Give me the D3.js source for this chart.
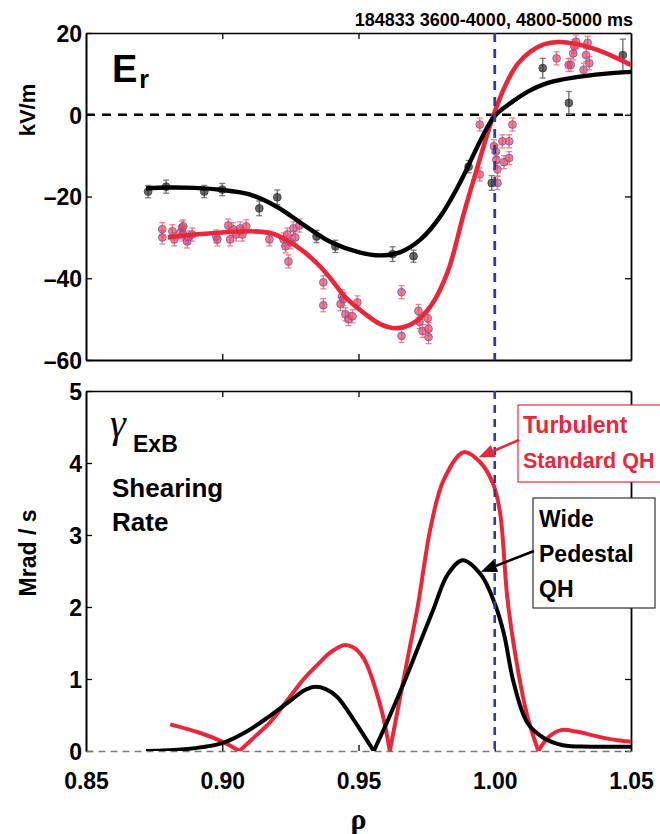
<!DOCTYPE html>
<html><head><meta charset="utf-8">
<script src="https://cdn.jsdelivr.net/npm/d3@7"></script>
<style>
body{margin:0;background:#fff;}
svg text{font-family:"Liberation Sans",Arial,Helvetica,sans-serif;font-weight:bold;}
</style></head><body>
<svg id="chart" width="660" height="834"></svg>
<script>
// ---------- DATA ----------
const xTicks = [0.85, 0.90, 0.95, 1.00, 1.05];
const erTicks = [20, 0, -20, -40, -60];
const gTicks = [0, 1, 2, 3, 4, 5];
const titleText = "184833 3600-4000, 4800-5000 ms";

// Er fit curves
const erBlackFitRho = [0.872,0.88,0.89,0.90,0.91,0.92,0.93,0.94,0.95,0.958,0.9654,0.9728,0.9801,0.9875,0.9949,1.0,1.0059,1.012,1.0195,1.03,1.04,1.05];
const erBlackFitVal = [-18.0,-17.8,-17.9,-18.4,-19.5,-22.5,-27.0,-31.2,-33.6,-34.4,-33.6,-30.5,-24.8,-16.3,-6.1,-0.3,2.9,5.6,7.8,9.2,10.0,10.5];
const erRedFitRho = [0.88,0.89,0.90,0.91,0.918,0.924,0.929,0.935,0.9397,0.945,0.952,0.958,0.964,0.970,0.9765,0.9827,0.9887,0.9938,0.9996,1.0045,1.0085,1.0132,1.018,1.0232,1.03,1.0379,1.045,1.05];
const erRedFitVal = [-30.0,-29.3,-28.8,-28.5,-29.0,-30.8,-33.0,-36.5,-40.0,-44.5,-48.5,-51.2,-52.2,-51.0,-46.8,-38.5,-24.0,-12.5,0,8.0,12.5,15.5,17.2,17.8,17.3,15.8,13.8,12.2];

// Er measured points
const erBlackRho = [0.8728,0.8794,0.8934,0.9000,0.9136,0.9202,0.9346,0.9415,0.9625,0.9702,0.9904,0.9989,1.0176,1.0272,1.0470];
const erBlackVal = [-18.8,-17.6,-18.8,-18.3,-22.9,-20.2,-29.8,-32.2,-34.1,-34.6,-12.7,-16.7,11.4,2.9,14.6];
const erBlackErr = [1.5,1.6,1.5,1.5,1.8,1.8,1.5,1.5,1.8,1.5,1.5,1.8,2.4,2.8,3.9];
const erRedRho = [0.878,0.878,0.8817,0.8824,0.8846,0.8853,0.8857,0.8857,0.8871,0.8875,0.8890,0.8978,0.8982,0.9022,0.9029,0.9040,0.9051,0.9066,0.9074,0.9088,
  0.9173,0.9225,0.9232,0.9239,0.9243,0.9250,0.9261,0.9268,0.9283,0.9371,0.9371,0.9434,0.9440,0.9445,0.9452,0.9463,0.9478,0.9496,
  0.9658,0.9658,0.9720,0.9724,0.9735,0.9754,0.9757,0.9757,0.9945,0.9945,0.9997,1.0004,1.0006,1.0010,1.0010,1.0028,1.0034,1.0053,1.0053,1.0065,
  1.0227,1.0271,1.0279,1.0288,1.0292,1.0298,1.0326,1.0335,1.0341,1.0347];
const erRedVal = [-28.0,-30.0,-28.5,-30.5,-28.8,-27.6,-27.3,-29.3,-31.0,-30.0,-29.3,-29.8,-30.5,-27.1,-30.5,-28.0,-29.3,-27.8,-29.3,-27.3,
  -30.5,-30.5,-32.2,-29.3,-35.9,-31.2,-27.8,-30.0,-27.1,-41.0,-46.6,-46.3,-44.4,-45.1,-48.8,-50.0,-49.3,-45.9,
  -43.4,-54.1,-48.0,-50.7,-52.9,-49.8,-52.4,-54.4,-2.4,-14.6,-7.7,-9.0,-11.0,-13.4,-16.7,-6.5,-11.6,-6.5,-10.6,-2.4,
  13.8,12.2,12.2,15.0,16.7,17.9,11.0,14.6,17.6,12.6];
const erRedErr = 1.6;

// Shearing rate curves
const gBlackRho = [0.872,0.88,0.89,0.90,0.908,0.9165,0.925,0.93,0.9336,0.938,0.9422,0.9483,0.9556,0.9607,0.9666,0.972,0.9776,0.9827,0.9882,0.9949,1.0,1.0033,1.007,1.012,1.018,1.025,1.035,1.05];
const gBlackVal = [0.0,0.01,0.04,0.11,0.25,0.46,0.7,0.84,0.89,0.86,0.75,0.43,0,0.42,0.94,1.45,1.98,2.45,2.65,2.45,2.05,1.64,0.94,0.39,0.18,0.08,0.06,0.06];
const gRedRho = [0.8809,0.892,0.90,0.9063,0.912,0.9176,0.925,0.9299,0.935,0.9397,0.9446,0.948,0.952,0.9581,0.9615,0.9679,0.9717,0.9765,0.9812,0.9886,0.9949,0.9996,1.002,1.0047,1.0083,1.012,1.016,1.02,1.0243,1.03,1.0379,1.045,1.05];
const gRedVal = [0.37,0.25,0.13,0,0.2,0.4,0.76,1.0,1.2,1.37,1.47,1.44,1.28,0.62,0,1.26,2.0,3.11,3.76,4.15,4.0,3.69,3.3,2.1,1.17,0.48,0,0.2,0.29,0.27,0.2,0.15,0.13];

// ---------- LAYOUT ----------
const RED = "#e8283a", BLUE = "#2e3d99";
const svg = d3.select("#chart");
const x = d3.scaleLinear().domain([0.85, 1.05]).range([86, 631]);
const yTop = d3.scaleLinear().domain([-60, 20]).range([360, 33]);
const yBot = d3.scaleLinear().domain([0, 5]).range([751, 391]);
const fmtEr = d => d < 0 ? "\u2013" + Math.abs(d) : String(d);

const defs = svg.append("defs");
defs.append("clipPath").attr("id","clipTop").append("rect")
  .attr("x", x(0.85)).attr("y", yTop(20)).attr("width", x(1.05)-x(0.85)).attr("height", yTop(-60)-yTop(20));
defs.append("clipPath").attr("id","clipBot").append("rect")
  .attr("x", x(0.85)).attr("y", yBot(5)-2).attr("width", x(1.05)-x(0.85)+4).attr("height", yBot(0)-yBot(5)+2);

function styleAxis(g, width, showText) {
  g.selectAll(".tick line").attr("stroke", "#000").attr("stroke-width", 1.3);
  g.select(".domain").attr("stroke", "#000").attr("stroke-width", width);
  g.selectAll("text").attr("font-size", 23).attr("fill", "#000")
    .style("display", showText ? null : "none");
}

// ---------- TOP PANEL ----------
const topG = svg.append("g");
topG.append("g").attr("transform", `translate(0,${yTop(20)})`)
  .call(d3.axisTop(x).tickValues([0.90,0.95,1.00]).tickSize(-6).tickSizeOuter(0)).call(g=>styleAxis(g,1.4,false));
topG.append("g").attr("transform", `translate(0,${yTop(-60)})`)
  .call(d3.axisBottom(x).tickValues([0.90,0.95,1.00]).tickSize(-6).tickSizeOuter(0)).call(g=>styleAxis(g,1.8,false));
topG.append("g").attr("transform", `translate(${x(1.05)},0)`)
  .call(d3.axisRight(yTop).tickValues(erTicks).tickSize(-6).tickSizeOuter(0)).call(g=>styleAxis(g,1.8,false));
topG.append("g").attr("transform", `translate(${x(0.85)},0)`)
  .call(d3.axisLeft(yTop).tickValues(erTicks).tickSize(-6).tickSizeOuter(0).tickPadding(4).tickFormat(fmtEr))
  .call(g=>styleAxis(g,2,true))
  .call(g=>g.selectAll("text").attr("dy","0.36em"));

// zero line
topG.append("line").attr("x1", x(0.85)).attr("x2", x(1.05)).attr("y1", yTop(0)).attr("y2", yTop(0))
  .attr("stroke","#000").attr("stroke-width",2.4).attr("stroke-dasharray","9,7");

// points
const topPts = topG.append("g").attr("clip-path","url(#clipTop)");
function drawPoints(g, rho, val, err, fill, stroke, barColor) {
  rho.forEach((r, i) => {
    const e = Array.isArray(err) ? err[i] : err;
    const cx = x(r), y0 = yTop(val[i] - e), y1 = yTop(val[i] + e);
    g.append("line").attr("x1",cx).attr("x2",cx).attr("y1",y0).attr("y2",y1).attr("stroke",barColor).attr("stroke-width",1.5);
    g.append("line").attr("x1",cx-3).attr("x2",cx+3).attr("y1",y0).attr("y2",y0).attr("stroke",barColor).attr("stroke-width",1.3);
    g.append("line").attr("x1",cx-3).attr("x2",cx+3).attr("y1",y1).attr("y2",y1).attr("stroke",barColor).attr("stroke-width",1.3);
  });
  rho.forEach((r, i) => {
    g.append("circle").attr("cx", x(r)).attr("cy", yTop(val[i])).attr("r", 3.9)
      .attr("fill", fill).attr("stroke", stroke).attr("stroke-width", 1);
  });
}
drawPoints(topPts, erRedRho, erRedVal, erRedErr, "rgba(240,70,90,0.7)", "rgba(90,90,190,0.75)", "rgba(240,110,125,0.85)");
drawPoints(topPts, erBlackRho, erBlackVal, erBlackErr, "rgba(40,40,40,0.7)", "rgba(60,60,60,0.8)", "rgba(110,110,110,0.9)");

// fit curves
const lineTop = d3.line().x(d=>x(d[0])).y(d=>yTop(d[1])).curve(d3.curveCatmullRom.alpha(0.5));
topG.append("path").attr("clip-path","url(#clipTop)").datum(d3.zip(erRedFitRho, erRedFitVal)).attr("d", lineTop)
  .attr("fill","none").attr("stroke",RED).attr("stroke-width",4.6);
topG.append("path").attr("clip-path","url(#clipTop)").datum(d3.zip(erBlackFitRho, erBlackFitVal)).attr("d", lineTop)
  .attr("fill","none").attr("stroke","#000").attr("stroke-width",4.4);

// separatrix
topG.append("line").attr("x1", x(1.0)).attr("x2", x(1.0)).attr("y1", yTop(20)).attr("y2", yTop(-60))
  .attr("stroke",BLUE).attr("stroke-width",2.8).attr("stroke-dasharray","9,7");

// title & labels
svg.append("text").attr("x", x(1.05)+2).attr("y", 26).attr("text-anchor","end").attr("font-size",18).text(titleText);
const er = svg.append("text").attr("x", 112).attr("y", 82).attr("font-size", 38);
er.append("tspan").text("E");
er.append("tspan").attr("font-size", 25).attr("dy", 6).attr("dx", 2).text("r");
svg.append("text").attr("transform", "translate(35,110) rotate(-90)").attr("text-anchor","middle").attr("font-size",22).text("kV/m");

// ---------- BOTTOM PANEL ----------
const botG = svg.append("g");
botG.append("g").attr("transform", `translate(0,${yBot(5)})`)
  .call(d3.axisTop(x).tickValues([0.90,0.95,1.00]).tickSize(-6).tickSizeOuter(0)).call(g=>styleAxis(g,1.4,false));
botG.append("g").attr("transform", `translate(${x(1.05)},0)`)
  .call(d3.axisRight(yBot).tickValues(gTicks).tickSize(-6).tickSizeOuter(0)).call(g=>styleAxis(g,1.8,false));
botG.append("g").attr("transform", `translate(${x(0.85)},0)`)
  .call(d3.axisLeft(yBot).tickValues(gTicks).tickSize(-6).tickSizeOuter(0).tickPadding(4).tickFormat(d3.format("d")))
  .call(g=>styleAxis(g,2,true))
  .call(g=>g.selectAll("text").attr("dy","0.36em"));
const xAx = botG.append("g").attr("transform", `translate(0,${yBot(0)})`)
  .call(d3.axisBottom(x).tickValues(xTicks).tickSize(-6).tickSizeOuter(0).tickPadding(22).tickFormat(d3.format(".2f")))
  .call(g=>styleAxis(g,1.4,true));
xAx.select(".domain").attr("stroke","#777").attr("stroke-dasharray","7,5");
xAx.selectAll(".tick").filter(d=>d===0.85||d===1.05).select("line").remove();

// curves, split at zero crossings for sharp V
function segments(rho, val) {
  const segs = []; let cur = [];
  rho.forEach((r, i) => {
    cur.push([r, val[i]]);
    if (val[i] === 0 && i > 0 && i < rho.length - 1) { segs.push(cur); cur = [[r, val[i]]]; }
  });
  segs.push(cur);
  return segs;
}
const lineBot = d3.line().x(d=>x(d[0])).y(d=>yBot(d[1])).curve(d3.curveCatmullRom.alpha(0.5));
const cg = botG.append("g").attr("clip-path","url(#clipBot)");
cg.selectAll("path.red").data(segments(gRedRho, gRedVal)).join("path").attr("class","red").attr("d", lineBot)
  .attr("fill","none").attr("stroke",RED).attr("stroke-width",4).attr("stroke-linejoin","miter");
cg.selectAll("path.blk").data(segments(gBlackRho, gBlackVal)).join("path").attr("class","blk").attr("d", lineBot)
  .attr("fill","none").attr("stroke","#000").attr("stroke-width",4).attr("stroke-linejoin","miter");

botG.append("line").attr("x1", x(1.0)).attr("x2", x(1.0)).attr("y1", yBot(5)).attr("y2", yBot(0))
  .attr("stroke",BLUE).attr("stroke-width",2.6).attr("stroke-dasharray","8,6");

// labels
const gl = svg.append("g");
gl.append("text").attr("x", 110).attr("y", 437).attr("font-size", 40)
  .style("font-family","'Liberation Serif','DejaVu Serif',serif").style("font-weight","normal").style("font-style","italic").text("\u03b3");
gl.append("text").attr("x", 133).attr("y", 452).attr("font-size", 23).text("ExB");
gl.append("text").attr("x", 112).attr("y", 497).attr("font-size", 26).text("Shearing");
gl.append("text").attr("x", 112).attr("y", 531).attr("font-size", 26).text("Rate");
svg.append("text").attr("transform", "translate(36,553) rotate(-90)").attr("text-anchor","middle").attr("font-size",23).text("Mrad / s");
svg.append("text").attr("x", x(0.95)).attr("y", 829).attr("text-anchor","middle").attr("font-size", 30)
  .style("font-family","'Liberation Serif','DejaVu Serif',serif").text("\u03c1");

// annotations
function arrow(x0, y0, x1, y1, color) {
  const ang = Math.atan2(y1 - y0, x1 - x0), L = 16, W = 6.5;
  const bx = x1 - L * Math.cos(ang), by = y1 - L * Math.sin(ang);
  svg.append("line").attr("x1",x0).attr("y1",y0).attr("x2",bx).attr("y2",by).attr("stroke",color).attr("stroke-width",2.6);
  svg.append("path").attr("d", `M${x1},${y1}L${bx - W*Math.sin(ang)},${by + W*Math.cos(ang)}L${bx + W*Math.sin(ang)},${by - W*Math.cos(ang)}Z`).attr("fill", color);
}
svg.append("rect").attr("x", 518).attr("y", 405).attr("width", 160).attr("height", 77).attr("fill","#fff").attr("stroke",RED).attr("stroke-width",1.2);
svg.append("text").attr("x", 523).attr("y", 433).attr("font-size", 23).attr("fill", RED).text("Turbulent");
svg.append("text").attr("x", 523).attr("y", 468).attr("font-size", 21.5).attr("fill", RED).text("Standard QH");
arrow(519, 440, x(0.9941), yBot(4.08), RED);
svg.append("rect").attr("x", 533).attr("y", 498).attr("width", 122).attr("height", 110).attr("fill","#fff").attr("stroke","#333").attr("stroke-width",1.2);
svg.append("text").attr("x", 539).attr("y", 527).attr("font-size", 23).text("Wide");
svg.append("text").attr("x", 539).attr("y", 562).attr("font-size", 23).text("Pedestal");
svg.append("text").attr("x", 539).attr("y", 597).attr("font-size", 23).text("QH");
arrow(534, 551, x(0.9949), yBot(2.49), "#000");
</script>
</body></html>
